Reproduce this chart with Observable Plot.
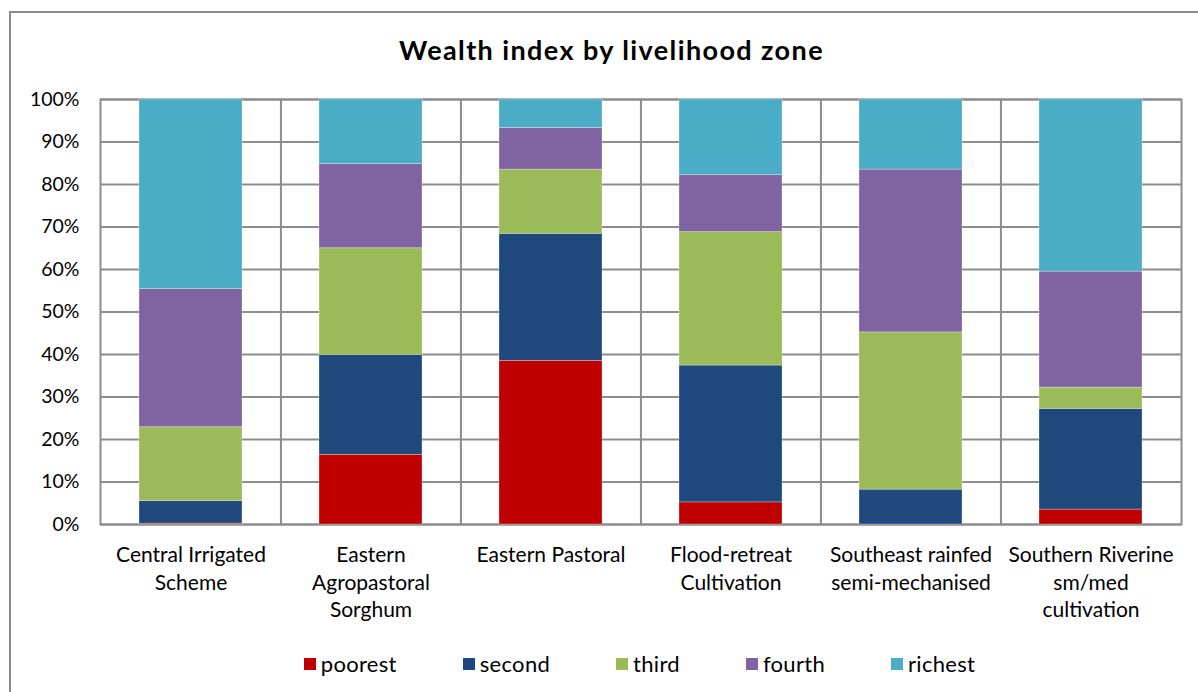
<!DOCTYPE html>
<html>
<head>
<meta charset="utf-8">
<script src="https://cdn.jsdelivr.net/npm/d3@7"></script>
<script src="https://cdn.jsdelivr.net/npm/@observablehq/plot@0.6"></script>
<style>
  body { margin: 0; background: #fff; font-family: Lato, "Open Sans", sans-serif; }
  #wrap { position: relative; width: 1198px; height: 692px; overflow: hidden; background: #fff; }
  #frame { position: absolute; left: 9px; top: 11px; width: 1400px; height: 900px;
           border-left: 2px solid #8a8a8a; border-top: 2px solid #8a8a8a; }
  #title { position: absolute; left: 10px; width: 1203px; top: 33px; text-align: center;
           font-weight: 700; font-size: 27px; letter-spacing: 1.4px; color: #000; }
  #chart { position: absolute; left: 0; top: 0; }
  #legend { position: absolute; top: 650px; left: 0; width: 1279px; display: flex;
            justify-content: center; gap: 66px; font-size: 22px; letter-spacing: 0.3px; color: #000; }
  .item { display: flex; align-items: center; }
  .sw { width: 12px; height: 12px; margin-right: 5px; display: inline-block; }
</style>
</head>
<body>
<div id="wrap">
  <div id="frame"></div>
  <div id="title">Wealth index by livelihood zone</div>
  <div id="chart"></div>
  <div id="legend"></div>
</div>
<script>
const zones = [
  "Central Irrigated\nScheme",
  "Eastern\nAgropastoral\nSorghum",
  "Eastern Pastoral",
  "Flood-retreat\nCultivation",
  "Southeast rainfed\nsemi-mechanised",
  "Southern Riverine\nsm/med\ncultivation"
];
const tiers = ["poorest", "second", "third", "fourth", "richest"];
const poorest = [0.2, 16.4, 38.5, 5.2, 0.0, 3.5];
const second  = [5.3, 23.5, 29.9, 32.2, 8.2, 23.7];
const third   = [17.4, 25.1, 15.1, 31.4, 37.0, 5.0];
const fourth  = [32.5, 19.8, 9.8, 13.4, 38.3, 27.3];
const richest = [44.6, 15.2, 6.7, 17.8, 16.5, 40.5];
const tierColors = ["#C00000", "#1F497D", "#9BBB59", "#8064A2", "#4BACC6"];
const yTicks = [0, 10, 20, 30, 40, 50, 60, 70, 80, 90, 100];

const series = [poorest, second, third, fourth, richest];
const rows = [];
tiers.forEach((t, ti) => zones.forEach((z, zi) => rows.push({zone: z, tier: t, value: series[ti][zi]})));

const W = 1198, H = 640;
const mL = 100, mR = 17, mT = 99, mB = 116;
const step = (W - mL - mR) / zones.length;
const grid = "#8c8c8c";

const chart = Plot.plot({
  width: W, height: H,
  marginLeft: mL, marginRight: mR, marginTop: mT, marginBottom: mB,
  style: {fontFamily: "Lato, 'Open Sans', sans-serif", fontSize: "19px", color: "#000", background: "transparent"},
  x: {domain: zones, paddingInner: 0.43, paddingOuter: 0.215},
  y: {domain: [0, 100]},
  color: {domain: tiers, range: tierColors},
  marks: [
    Plot.ruleY(yTicks, {stroke: grid, strokeWidth: 2}),
    Plot.ruleX(zones.slice(1), {x: d => d, dx: -step / 2, stroke: grid, strokeWidth: 2}),
    Plot.frame({stroke: grid, strokeWidth: 2}),
    Plot.barY(rows, {x: "zone", y: "value", fill: "tier", z: "tier", order: tiers,
                     stroke: "#ffffff", strokeOpacity: 0.35, strokeWidth: 0.8}),
    Plot.axisY({ticks: yTicks, tickFormat: d => d + "%", tickSize: 0, tickPadding: 21,
                fontSize: 19.5, label: null}),
    Plot.axisX({tickSize: 0, tickPadding: 18, lineHeight: 1.31, fontSize: 21,
                letterSpacing: 0.5, label: null})
  ]
});
document.getElementById("chart").appendChild(chart);

const legend = document.getElementById("legend");
tiers.forEach((t, i) => {
  const item = document.createElement("div");
  item.className = "item";
  const sw = document.createElement("span");
  sw.className = "sw";
  sw.style.background = tierColors[i];
  const lab = document.createElement("span");
  lab.textContent = t;
  item.appendChild(sw); item.appendChild(lab);
  legend.appendChild(item);
});
</script>
</body>
</html>
